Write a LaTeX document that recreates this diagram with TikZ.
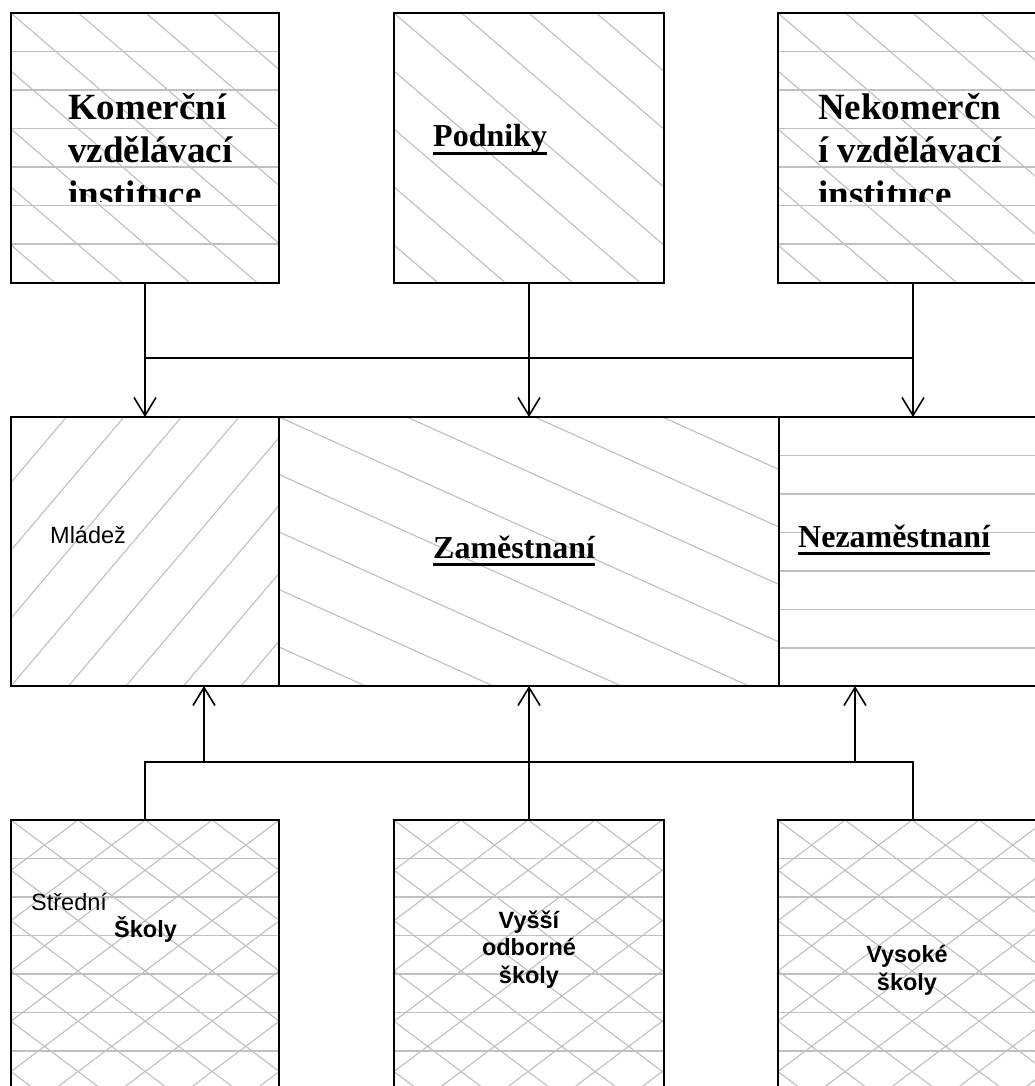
\documentclass[tikz,border=0pt]{standalone}
\usepackage{fontspec}
\setmainfont{Liberation Serif}
\setsansfont{Liberation Sans}
\usetikzlibrary{arrows.meta}
\definecolor{hatchgray}{RGB}{192,192,192}

% hatch families, drawn in a frame whose origin is the box's top-left corner
% (units are pixels, y grows downwards)
\newcommand\famdr[2]{% down-right lines through (0,k*#2), slope #1
  \foreach \k in {-14,...,14}{\draw[hatchline] (-20,{\k*#2-20*#1}) -- (620,{\k*#2+620*#1});}}
\newcommand\famdl[3]{% down-left lines, slope #1, spacing #2, through (#3,0)
  \foreach \k in {-14,...,14}{\draw[hatchline] (-20,{\k*#2+(20+#3)*#1}) -- (620,{\k*#2-(620-#3)*#1});}}
\newcommand\famh[1]{% horizontal lines
  \foreach \k in {1,...,9}{\draw[hatchline] (-20,{\k*#1}) -- (620,{\k*#1});}}
% fill a box node with hatch families, then stroke its outline
\newcommand\hatchin[2]{%
  \begin{scope}
    \clip (#1.north west) rectangle (#1.south east);
    \begin{scope}[shift={(#1.north west)}]#2\end{scope}
  \end{scope}
  \draw[boxline] (#1.north west) rectangle (#1.south east);}
\newcommand\ulword[1]{\setbox0\hbox{#1}\rlap{\rule[-8pt]{\wd0}{3pt}}\box0}

\tikzset{
  hatchline/.style={draw=hatchgray, line width=1.1pt},
  box/.style={inner sep=0pt, outer sep=0pt},
  boxline/.style={draw=black, line width=2pt},
  topserif/.style={font=\fontsize{37}{43}\selectfont\bfseries, anchor=base west, inner sep=0pt},
  midserif/.style={font=\fontsize{32}{37}\selectfont\bfseries, anchor=base west, inner sep=0pt},
  sanslabel/.style={font=\sffamily\fontsize{23.5}{27.5}\selectfont, inner sep=0pt},
  sansbold/.style={font=\sffamily\bfseries\fontsize{23.5}{27.5}\selectfont, inner sep=0pt},
  conn/.style={draw=black, line width=1.6pt},
  arr/.style={conn, -{Straight Barb[length=18pt,width=22pt]}},
}

\begin{document}
\begin{tikzpicture}[x=1pt,y=-1pt]
\useasboundingbox (0,0) rectangle (1035,1086);
\clip (0,0) rectangle (1035,1086);
\fill[white] (0,0) rectangle (1035,1086);

% providers
\node[box, minimum width=268pt, minimum height=270pt] (k1) at (145,148) {};
\node[box, minimum width=270pt, minimum height=270pt] (pod) at (529,148) {};
\node[box, minimum width=270pt, minimum height=270pt] (nek) at (913,148) {};
% target groups
\node[box, minimum width=268pt, minimum height=269pt] (mla) at (145,551.5) {};
\node[box, minimum width=500pt, minimum height=269pt] (zam) at (529,551.5) {};
\node[box, minimum width=269pt, minimum height=269pt] (nez) at (913.5,551.5) {};
% schools
\node[box, minimum width=268pt, minimum height=270pt] (ss) at (145,955) {};
\node[box, minimum width=270pt, minimum height=270pt] (vos) at (529,955) {};
\node[box, minimum width=270pt, minimum height=270pt] (vs) at (913,955) {};

\hatchin{k1}{\famh{38.5}\famdr{0.86}{58}}
\hatchin{pod}{\famdr{0.86}{58}}
\hatchin{nek}{\famh{38.5}\famdr{0.86}{58}}
\hatchin{mla}{\famdl{1.18}{67.85}{228}}
\hatchin{zam}{\famdr{0.45}{57.5}}
\hatchin{nez}{\famh{38.5}}
\hatchin{ss}{\famh{38.5}\famdr{0.75}{50.3}\famdl{0.75}{50.3}{0}}
\hatchin{vos}{\famh{38.5}\famdr{0.75}{50.3}\famdl{0.75}{50.3}{0}}
\hatchin{vs}{\famh{38.5}\famdr{0.75}{50.3}\famdl{0.75}{50.3}{0}}

% labels
\node[topserif] (k1a) at (68,120) {Komerční};
\node[topserif] (k1b) at (68,163) {vzdělávací};
\node[topserif] (neka) at (818,120) {Nekomerčn};
\node[topserif] (nekb) at (818,163) {í vzdělávací};
\begin{scope}
  \clip (0,13) rectangle (1035,201);
  \node[topserif] (k1c) at (68,206) {instituce};
  \node[topserif] (nekc) at (818,206) {instituce};
\end{scope}
\node[midserif] (podt) at (433,147) {\ulword{Podniky}};
\node[midserif] (zamt) at (433,558) {\ulword{Zaměstnaní}};
\node[midserif] (nezt) at (798,547) {\ulword{Nezaměstnaní}};

\node[sanslabel, anchor=base west] (mlat) at (50,543) {Mládež};
\node[sanslabel, anchor=base west] (sst1) at (31,910) {Střední};
\node[sansbold, anchor=base west] (sst2) at (114,937) {Školy};
\node[sansbold, anchor=base] (vost1) at (529,928) {Vyšší};
\node[sansbold, anchor=base] (vost2) at (529,955.5) {odborné};
\node[sansbold, anchor=base] (vost3) at (529,983) {školy};
\node[sansbold, anchor=base] (vst1) at (907,962) {Vysoké};
\node[sansbold, anchor=base] (vst2) at (907,990) {školy};

% upper connectors
\coordinate (bus1) at (0,358);
\draw[conn] (k1.south |- bus1) -- (nek.south |- bus1);
\draw[arr] (k1.south) -- (k1.south |- mla.north);
\draw[arr] (pod.south) -- (pod.south |- zam.north);
\draw[arr] (nek.south) -- (nek.south |- nez.north);

% lower connectors
\coordinate (bus2) at (0,762);
\coordinate (up1) at (204,762);
\coordinate (up3) at (855,762);
\draw[conn] (ss.north) -- (ss.north |- bus2) -- (vs.north |- bus2) -- (vs.north);
\draw[conn] (vos.north) -- (vos.north |- bus2);
\draw[arr] (up1) -- (up1 |- mla.south);
\draw[arr] (vos.north |- bus2) -- (vos.north |- zam.south);
\draw[arr] (up3) -- (up3 |- nez.south);
\end{tikzpicture}
\end{document}
